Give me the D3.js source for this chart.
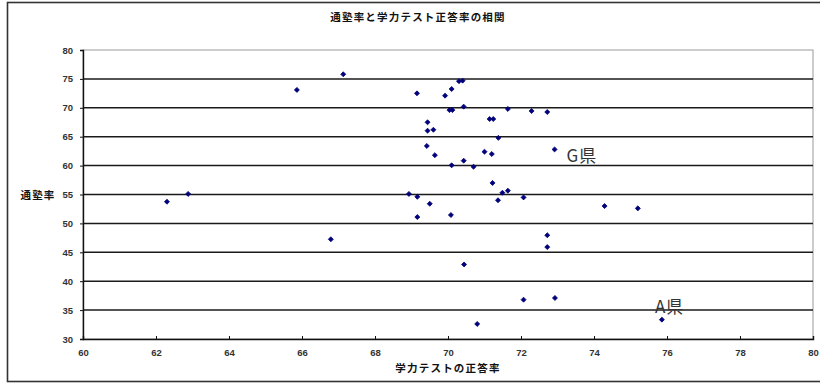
<!DOCTYPE html>
<html>
<head>
<meta charset="utf-8">
<script src="https://cdn.jsdelivr.net/npm/d3@7/dist/d3.min.js"></script>
<style>
  html, body { margin: 0; padding: 0; background: #fff; }
  svg { display: block; }
</style>
</head>
<body>
<svg id="chart" width="820" height="385"></svg>
<script>
// 学力テストの正答率 (x) と 通塾率 (y)
const correctRate = [
  62.3, 62.88, 65.86, 66.79, 67.13, 68.93, 69.16, 69.5, 69.16, 70.08,
  69.15, 69.92, 70.1, 70.3, 70.4, 70.04, 70.12, 70.43, 71.64, 72.29,
  72.72, 69.44, 69.44, 69.6, 71.14, 71.24, 71.38, 69.42, 69.64, 71.0,
  71.2, 72.92, 70.1, 70.43, 70.7, 71.22, 71.49, 71.64, 71.37, 72.07,
  74.29, 75.2, 72.72, 72.72, 70.44, 72.07, 72.93, 70.8, 75.86
];
const jukuRate = [
  53.75, 55.1, 73.1, 47.25, 75.8, 55.1, 54.6, 53.4, 51.1, 51.45,
  72.5, 72.1, 73.25, 74.6, 74.7, 69.6, 69.6, 70.2, 69.8, 69.45,
  69.27, 67.5, 66.04, 66.2, 68.06, 68.06, 64.8, 63.4, 61.8, 62.4,
  62.0, 62.8, 60.05, 60.85, 59.8, 57.0, 55.3, 55.66, 54.0, 54.5,
  53.0, 52.6, 47.95, 45.9, 42.9, 36.8, 37.1, 32.6, 33.35
];
const xTicks = [60, 62, 64, 66, 68, 70, 72, 74, 76, 78, 80];
const yTicks = [30, 35, 40, 45, 50, 55, 60, 65, 70, 75, 80];
// 注記: 県名とその県の点の番号
const notes = [
  { text: "G県", index: 31 },
  { text: "A県", index: 48 }
];

const title = "通塾率と学力テスト正答率の相関";
const xTitle = "学力テストの正答率";
const yTitle = "通塾率";

const svg = d3.select("#chart");
const plotLeft = 83, plotRight = 813, plotTop = 50, plotBottom = 339;

const x = d3.scaleLinear().domain([60, 80]).range([plotLeft, plotRight]);
const y = d3.scaleLinear().domain([30, 80]).range([plotBottom, plotTop]);

const jp = "'Noto Sans CJK JP', 'Noto Sans', sans-serif";
const num = "'Liberation Sans', Arial, sans-serif";

// chart frame (right edge runs off the page)
svg.append("rect")
  .attr("x", 7.5).attr("y", 2.5)
  .attr("width", 830).attr("height", 379)
  .attr("fill", "#fff")
  .attr("stroke", "#333").attr("stroke-width", 1.6);

// plot area border
svg.append("rect")
  .attr("x", plotLeft).attr("y", plotTop)
  .attr("width", plotRight - plotLeft).attr("height", plotBottom - plotTop)
  .attr("fill", "none")
  .attr("stroke", "#9a9a9a").attr("stroke-width", 1);

// horizontal gridlines
svg.append("g")
  .selectAll("line")
  .data(yTicks.filter(v => v > 30 && v < 80))
  .join("line")
  .attr("x1", plotLeft).attr("x2", plotRight)
  .attr("y1", d => y(d)).attr("y2", d => y(d))
  .attr("stroke", "#1a1a1a").attr("stroke-width", 1.5);

// y axis
const yAxis = svg.append("g")
  .attr("transform", `translate(${plotLeft},0)`)
  .call(d3.axisLeft(y).tickValues(yTicks).tickSize(3).tickPadding(7));
yAxis.select(".domain").attr("stroke", "#111").attr("stroke-width", 1.4);
yAxis.selectAll(".tick line").attr("stroke", "#111");
yAxis.selectAll("text")
  .attr("font-family", num).attr("font-size", 9.5).attr("font-weight", "bold")
  .attr("fill", "#333");

// x axis
const xAxis = svg.append("g")
  .attr("transform", `translate(0,${plotBottom})`)
  .call(d3.axisBottom(x).tickValues(xTicks).tickSize(-3).tickPadding(10));
xAxis.select(".domain").attr("stroke", "#111").attr("stroke-width", 1.4);
xAxis.selectAll(".tick line").attr("stroke", "#111");
xAxis.selectAll("text")
  .attr("font-family", num).attr("font-size", 9.5).attr("font-weight", "bold")
  .attr("fill", "#333");

// points (small square diamonds)
const diamond = d3.symbol().type(d3.symbolDiamond2).size(16);
svg.append("g")
  .selectAll("path")
  .data(correctRate.map((v, i) => [v, jukuRate[i]]))
  .join("path")
  .attr("d", diamond)
  .attr("transform", d => `translate(${x(d[0])},${y(d[1])})`)
  .attr("fill", "#00007a")
  .attr("stroke", "#00007a").attr("stroke-width", 0.8);

// prefecture notes
const noteOffset = { "G県": [12, 13], "A県": [-7, -7] };
svg.append("g")
  .selectAll("text")
  .data(notes)
  .join("text")
  .attr("x", d => x(correctRate[d.index]) + noteOffset[d.text][0])
  .attr("y", d => y(jukuRate[d.index]) + noteOffset[d.text][1])
  .attr("font-family", jp).attr("font-size", 17)
  .attr("letter-spacing", 1)
  .attr("fill", "#333")
  .text(d => d.text);

// titles
svg.append("text")
  .attr("x", 418).attr("y", 21)
  .attr("text-anchor", "middle")
  .attr("font-family", jp).attr("font-size", 10.5).attr("font-weight", "bold")
  .attr("letter-spacing", 1.2)
  .attr("fill", "#111")
  .text(title);

svg.append("text")
  .attr("x", (plotLeft + plotRight) / 2).attr("y", 372)
  .attr("text-anchor", "middle")
  .attr("font-family", jp).attr("font-size", 10.5).attr("font-weight", "bold")
  .attr("letter-spacing", 1.2)
  .attr("fill", "#111")
  .text(xTitle);

svg.append("text")
  .attr("x", 38).attr("y", 199)
  .attr("text-anchor", "middle")
  .attr("font-family", jp).attr("font-size", 10.5).attr("font-weight", "bold")
  .attr("letter-spacing", 1.2)
  .attr("fill", "#111")
  .text(yTitle);
</script>
</body>
</html>
